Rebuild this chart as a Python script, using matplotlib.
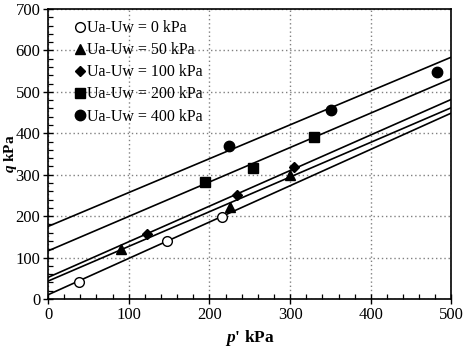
import numpy as np
import matplotlib
matplotlib.use("Agg")
import matplotlib.pyplot as plt
from matplotlib.ticker import MultipleLocator

plt.rcParams['font.family'] = ['Liberation Serif', 'DejaVu Serif']
plt.rcParams['mathtext.fontset'] = 'custom'
plt.rcParams['mathtext.rm'] = 'Liberation Serif'
plt.rcParams['mathtext.it'] = 'Liberation Serif:italic'
plt.rcParams['mathtext.bf'] = 'Liberation Serif:bold'
plt.rcParams['mathtext.bfit'] = 'Liberation Serif:bold:italic'

# suction levels
labels = ['Ua-Uw = 0 kPa', 'Ua-Uw = 50 kPa', 'Ua-Uw = 100 kPa',
          'Ua-Uw = 200 kPa', 'Ua-Uw = 400 kPa']
markers = ['o', '^', 'D', 's', 'o']
facecols = ['white', 'black', 'black', 'black', 'black']
msizes = [7, 7, 5.5, 6.5, 7.5]

# measured points (p', q)
p_pts = [[39, 148, 216], [91, 225, 300], [123, 234, 305],
         [195, 254, 330], [224, 351, 482]]
q_pts = [[42, 141, 198], [120, 222, 299], [158, 250, 318],
         [283, 315, 391], [370, 456, 548]]

# fitted failure lines q = c + m p'
intercepts = [10, 43, 52, 116, 175]
slopes = [0.878, 0.838, 0.860, 0.832, 0.818]

fig = plt.figure(figsize=(4.73, 3.48), dpi=100)
ax = fig.add_axes([0.1015, 0.141, 0.853, 0.833])

xl = np.array([0, 500])
for c, m in zip(intercepts, slopes):
    ax.plot(xl, c + m * xl, color='black', lw=1.2, zorder=2)

for i in range(len(labels)):
    ax.plot(p_pts[i], q_pts[i], ls='none', marker=markers[i], ms=msizes[i],
            mfc=facecols[i], mec='black', mew=1.0, label=labels[i], zorder=3)

ax.set_xlim(0, 500)
ax.set_ylim(0, 700)
ax.xaxis.set_major_locator(MultipleLocator(100))
ax.xaxis.set_minor_locator(MultipleLocator(20))
ax.yaxis.set_major_locator(MultipleLocator(100))
ax.yaxis.set_minor_locator(MultipleLocator(20))
ax.tick_params(which='both', labelsize=12, colors='black', pad=2)
ax.tick_params(which='major', direction='inout', length=7, width=1)
ax.tick_params(which='minor', direction='in', length=3.5, width=0.9)
ax.grid(True, which='major', ls=(0, (1, 2)), color='gray', lw=1)
for s in ax.spines.values():
    s.set_linewidth(1.2)

ax.set_xlabel(r"$\mathbfit{p}$' kPa", fontsize=12.5, fontweight='bold')
ax.set_ylabel(r"$\mathbfit{q}$ kPa", fontsize=11, fontweight='bold')
ax.xaxis.set_label_coords(0.5, -0.1)
ax.yaxis.set_label_coords(-0.072, 0.5)

ax.legend(loc='upper left', bbox_to_anchor=(0.04, 1.0), frameon=False,
          fontsize=11.5, handlelength=0.6, handletextpad=0.15,
          labelspacing=0.38, borderaxespad=0.3)

fig.savefig('out.png', dpi=100)
